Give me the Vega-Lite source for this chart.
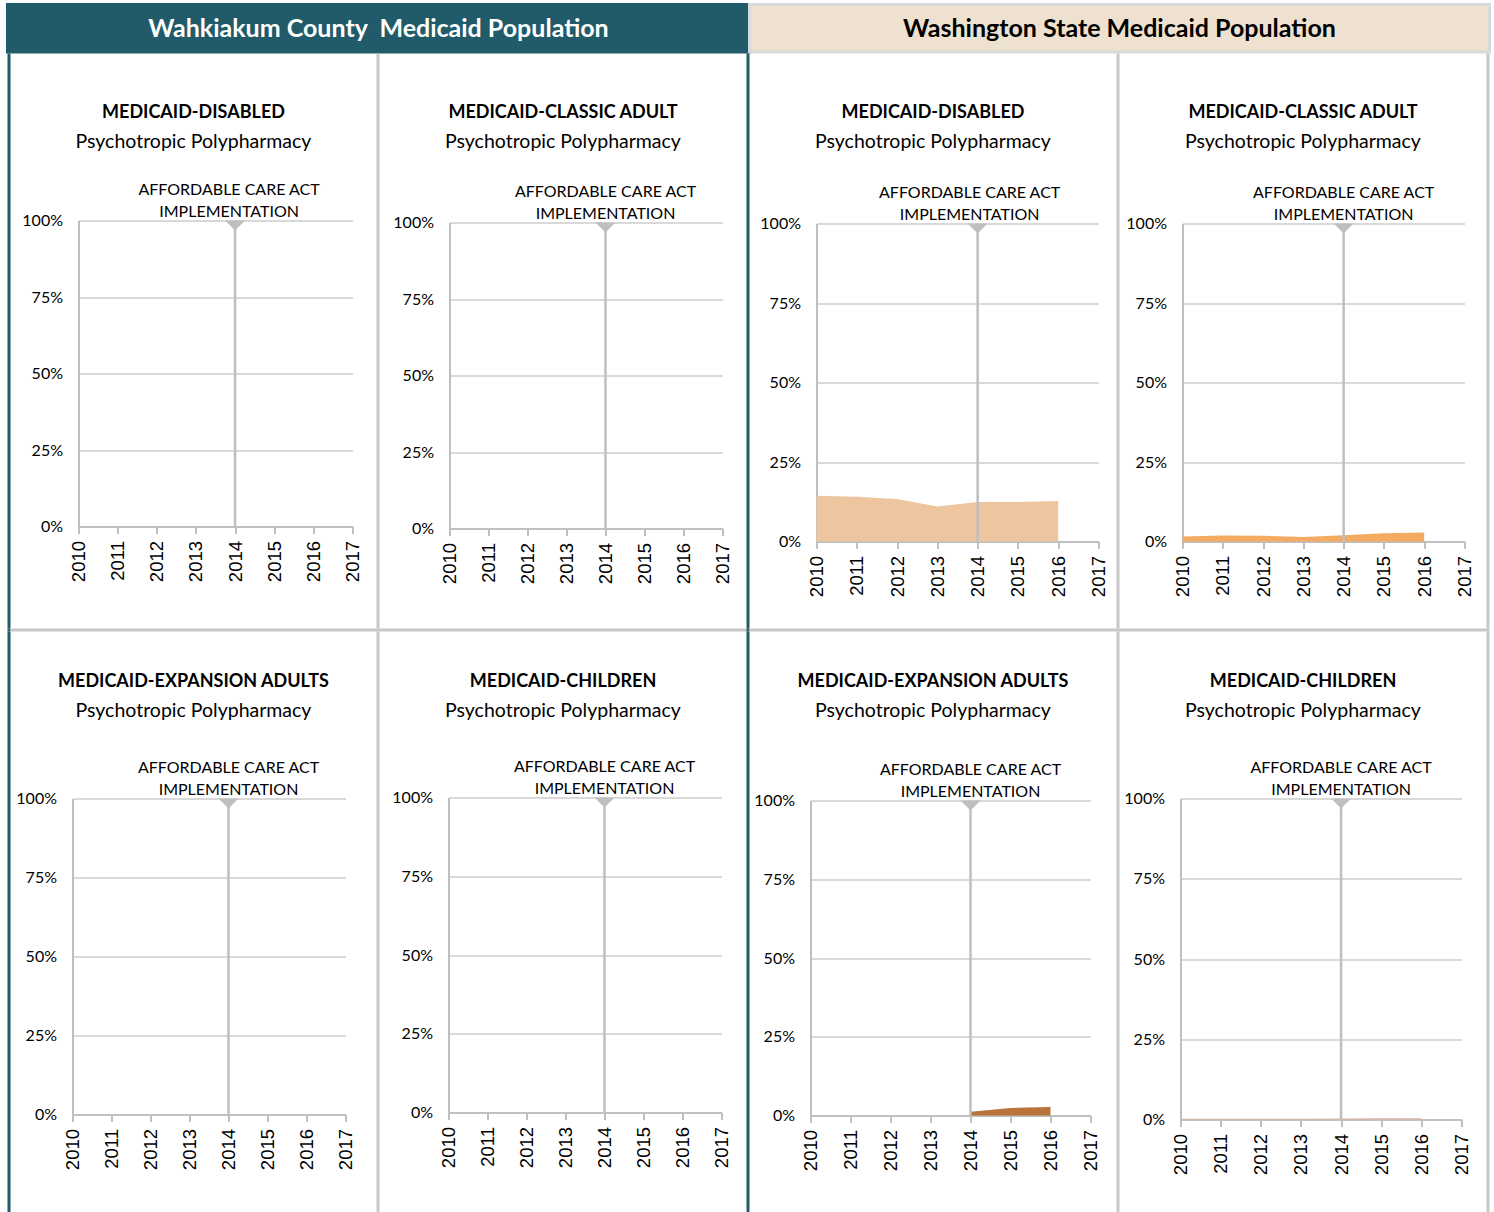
{
  "$schema": "https://vega.github.io/schema/vega-lite/v6.json",
  "padding": {"left": 5.5, "top": 2.5, "right": 0, "bottom": 0},
  "background": "white",
  "spacing": 0,
  "datasets": {
    "rates": [
      {"panel": "WA-DISABLED", "year": 2010, "pct": 0.144},
      {"panel": "WA-DISABLED", "year": 2011, "pct": 0.141},
      {"panel": "WA-DISABLED", "year": 2012, "pct": 0.134},
      {"panel": "WA-DISABLED", "year": 2013, "pct": 0.110},
      {"panel": "WA-DISABLED", "year": 2014, "pct": 0.124},
      {"panel": "WA-DISABLED", "year": 2015, "pct": 0.124},
      {"panel": "WA-DISABLED", "year": 2016, "pct": 0.127},
      {"panel": "WA-CLASSIC", "year": 2010, "pct": 0.016},
      {"panel": "WA-CLASSIC", "year": 2011, "pct": 0.019},
      {"panel": "WA-CLASSIC", "year": 2012, "pct": 0.018},
      {"panel": "WA-CLASSIC", "year": 2013, "pct": 0.014},
      {"panel": "WA-CLASSIC", "year": 2014, "pct": 0.020},
      {"panel": "WA-CLASSIC", "year": 2015, "pct": 0.026},
      {"panel": "WA-CLASSIC", "year": 2016, "pct": 0.028},
      {"panel": "WA-EXPANSION", "year": 2014, "pct": 0.012},
      {"panel": "WA-EXPANSION", "year": 2015, "pct": 0.024},
      {"panel": "WA-EXPANSION", "year": 2016, "pct": 0.027},
      {"panel": "WA-CHILDREN", "year": 2010, "pct": 0.002},
      {"panel": "WA-CHILDREN", "year": 2011, "pct": 0.002},
      {"panel": "WA-CHILDREN", "year": 2012, "pct": 0.002},
      {"panel": "WA-CHILDREN", "year": 2013, "pct": 0.002},
      {"panel": "WA-CHILDREN", "year": 2014, "pct": 0.003},
      {"panel": "WA-CHILDREN", "year": 2015, "pct": 0.004},
      {"panel": "WA-CHILDREN", "year": 2016, "pct": 0.004}
    ],
    "aca": [
      {"year": 2014, "pct": 1, "base": 0, "label": "AFFORDABLE CARE ACT\nIMPLEMENTATION"}
    ],
    "blank": [{"s": 1}]
  },
  "vconcat": [
    {
      "hconcat": [
        {"width": 742, "height": 47.5, "view": {"fill": "#215A68", "stroke": "#215A68", "strokeWidth": 3},
         "data": {"values": [{"h": "Wahkiakum County\u00a0 Medicaid Population"}]},
         "mark": {"type": "text", "font": "Lato", "fontWeight": "bold", "fontSize": 25, "color": "white", "baseline": "middle", "dy": 1},
         "encoding": {"text": {"field": "h"}}},
        {"width": 740, "height": 47.5, "view": {"fill": "#EEE1CF", "stroke": "#D9D9D9", "strokeWidth": 3},
         "data": {"values": [{"h": "Washington State Medicaid Population"}]},
         "mark": {"type": "text", "font": "Lato", "fontWeight": "bold", "fontSize": 25, "color": "black", "baseline": "middle", "dy": 1},
         "encoding": {"text": {"field": "h"}}}
      ],
      "spacing": 0, "bounds": "flush"
    },
    {
      "hconcat": [
        {"width": 3, "height": 575, "view": {"fill": "#215A68", "stroke": null}, "data": {"name": "blank"}, "mark": {"type": "point", "size": 0, "opacity": 0}, "encoding": {}},
        {
          "width": 366, "height": 575,
          "title": {"text": "MEDICAID-DISABLED", "subtitle": "Psychotropic Polypharmacy", "offset": -98},
          "encoding": {
            "x": {"field": "year", "type": "quantitative", "scale": {"domain": [2010, 2017], "range": [68, 342], "nice": false, "zero": false}, "axis": {"title": null, "offset": -102, "values": [2010, 2011, 2012, 2013, 2014, 2015, 2016, 2017], "format": "d"}},
            "y": {"field": "pct", "type": "quantitative", "scale": {"domain": [0, 1], "range": [473, 167], "nice": false}, "axis": {"title": null, "offset": -68, "values": [0, 0.25, 0.5, 0.75, 1], "format": ".0%"}}
          },
          "layer": [
            {"data": {"name": "aca"}, "mark": {"type": "rule", "color": "#BFBFBF", "strokeWidth": 2.5}, "encoding": {"y2": {"field": "base"}}},
            {"data": {"name": "aca"}, "mark": {"type": "point", "shape": "M-1,0L1,0L0,1Z", "filled": true, "size": 400, "color": "#BFBFBF", "opacity": 1}},
            {"data": {"name": "aca"}, "mark": {"type": "text", "baseline": "bottom", "dy": -23, "dx": -6, "font": "Lato", "fontSize": 16, "lineHeight": 22, "lineBreak": "\n", "color": "#000000"}, "encoding": {"text": {"field": "label"}}}
          ]
        },
        {"width": 3, "height": 575, "view": {"fill": "#C8C8C8", "stroke": null}, "data": {"name": "blank"}, "mark": {"type": "point", "size": 0, "opacity": 0}, "encoding": {}},
        {
          "width": 367, "height": 575,
          "title": {"text": "MEDICAID-CLASSIC ADULT", "subtitle": "Psychotropic Polypharmacy", "offset": -98},
          "encoding": {
            "x": {"field": "year", "type": "quantitative", "scale": {"domain": [2010, 2017], "range": [70, 343], "nice": false, "zero": false}, "axis": {"title": null, "offset": -100, "values": [2010, 2011, 2012, 2013, 2014, 2015, 2016, 2017], "format": "d"}},
            "y": {"field": "pct", "type": "quantitative", "scale": {"domain": [0, 1], "range": [475, 169], "nice": false}, "axis": {"title": null, "offset": -70, "values": [0, 0.25, 0.5, 0.75, 1], "format": ".0%"}}
          },
          "layer": [
            {"data": {"name": "aca"}, "mark": {"type": "rule", "color": "#BFBFBF", "strokeWidth": 2.5}, "encoding": {"y2": {"field": "base"}}},
            {"data": {"name": "aca"}, "mark": {"type": "point", "shape": "M-1,0L1,0L0,1Z", "filled": true, "size": 400, "color": "#BFBFBF", "opacity": 1}},
            {"data": {"name": "aca"}, "mark": {"type": "text", "baseline": "bottom", "dy": -23, "font": "Lato", "fontSize": 16, "lineHeight": 22, "lineBreak": "\n", "color": "#000000"}, "encoding": {"text": {"field": "label"}}}
          ]
        },
        {"width": 3, "height": 575, "view": {"fill": "#215A68", "stroke": null}, "data": {"name": "blank"}, "mark": {"type": "point", "size": 0, "opacity": 0}, "encoding": {}},
        {
          "width": 367, "height": 575,
          "title": {"text": "MEDICAID-DISABLED", "subtitle": "Psychotropic Polypharmacy", "offset": -98},
          "encoding": {
            "x": {"field": "year", "type": "quantitative", "scale": {"domain": [2010, 2017], "range": [67, 349], "nice": false, "zero": false}, "axis": {"title": null, "offset": -87, "values": [2010, 2011, 2012, 2013, 2014, 2015, 2016, 2017], "format": "d"}},
            "y": {"field": "pct", "type": "quantitative", "scale": {"domain": [0, 1], "range": [488, 170], "nice": false}, "axis": {"title": null, "offset": -67, "values": [0, 0.25, 0.5, 0.75, 1], "format": ".0%"}}
          },
          "layer": [
            {"data": {"name": "rates"}, "transform": [{"filter": "datum.panel === 'WA-DISABLED'"}], "mark": {"type": "area", "color": "#EDC59E", "opacity": 1}},
            {"data": {"name": "aca"}, "mark": {"type": "rule", "color": "#BFBFBF", "strokeWidth": 2.5}, "encoding": {"y2": {"field": "base"}}},
            {"data": {"name": "aca"}, "mark": {"type": "point", "shape": "M-1,0L1,0L0,1Z", "filled": true, "size": 400, "color": "#BFBFBF", "opacity": 1}},
            {"data": {"name": "aca"}, "mark": {"type": "text", "baseline": "bottom", "dy": -23, "dx": -8, "font": "Lato", "fontSize": 16, "lineHeight": 22, "lineBreak": "\n", "color": "#000000"}, "encoding": {"text": {"field": "label"}}}
          ]
        },
        {"width": 3, "height": 575, "view": {"fill": "#C8C8C8", "stroke": null}, "data": {"name": "blank"}, "mark": {"type": "point", "size": 0, "opacity": 0}, "encoding": {}},
        {
          "width": 367, "height": 575,
          "title": {"text": "MEDICAID-CLASSIC ADULT", "subtitle": "Psychotropic Polypharmacy", "offset": -98},
          "encoding": {
            "x": {"field": "year", "type": "quantitative", "scale": {"domain": [2010, 2017], "range": [63, 345], "nice": false, "zero": false}, "axis": {"title": null, "offset": -87, "values": [2010, 2011, 2012, 2013, 2014, 2015, 2016, 2017], "format": "d"}},
            "y": {"field": "pct", "type": "quantitative", "scale": {"domain": [0, 1], "range": [488, 170], "nice": false}, "axis": {"title": null, "offset": -63, "values": [0, 0.25, 0.5, 0.75, 1], "format": ".0%"}}
          },
          "layer": [
            {"data": {"name": "rates"}, "transform": [{"filter": "datum.panel === 'WA-CLASSIC'"}], "mark": {"type": "area", "color": "#F5AA62", "opacity": 1}},
            {"data": {"name": "aca"}, "mark": {"type": "rule", "color": "#BFBFBF", "strokeWidth": 2.5}, "encoding": {"y2": {"field": "base"}}},
            {"data": {"name": "aca"}, "mark": {"type": "point", "shape": "M-1,0L1,0L0,1Z", "filled": true, "size": 400, "color": "#BFBFBF", "opacity": 1}},
            {"data": {"name": "aca"}, "mark": {"type": "text", "baseline": "bottom", "dy": -23, "font": "Lato", "fontSize": 16, "lineHeight": 22, "lineBreak": "\n", "color": "#000000"}, "encoding": {"text": {"field": "label"}}}
          ]
        },
        {"width": 3, "height": 575, "view": {"fill": "#C8C8C8", "stroke": null}, "data": {"name": "blank"}, "mark": {"type": "point", "size": 0, "opacity": 0}, "encoding": {}}
      ],
      "spacing": 0, "bounds": "flush"
    },
    {
      "hconcat": [
        {"width": 3, "height": 3, "view": {"fill": "#215A68", "stroke": null}, "data": {"name": "blank"}, "mark": {"type": "point", "size": 0, "opacity": 0}, "encoding": {}},
        {"width": 736, "height": 3, "view": {"fill": "#C8C8C8", "stroke": null}, "data": {"name": "blank"}, "mark": {"type": "point", "size": 0, "opacity": 0}, "encoding": {}},
        {"width": 3, "height": 3, "view": {"fill": "#215A68", "stroke": null}, "data": {"name": "blank"}, "mark": {"type": "point", "size": 0, "opacity": 0}, "encoding": {}},
        {"width": 740, "height": 3, "view": {"fill": "#C8C8C8", "stroke": null}, "data": {"name": "blank"}, "mark": {"type": "point", "size": 0, "opacity": 0}, "encoding": {}}
      ],
      "spacing": 0, "bounds": "flush"
    },
    {
      "hconcat": [
        {"width": 3, "height": 585, "view": {"fill": "#215A68", "stroke": null}, "data": {"name": "blank"}, "mark": {"type": "point", "size": 0, "opacity": 0}, "encoding": {}},
        {
          "width": 366, "height": 585,
          "title": {"text": "MEDICAID-EXPANSION ADULTS", "subtitle": "Psychotropic Polypharmacy", "offset": -89},
          "encoding": {
            "x": {"field": "year", "type": "quantitative", "scale": {"domain": [2010, 2017], "range": [62, 335], "nice": false, "zero": false}, "axis": {"title": null, "offset": -102, "values": [2010, 2011, 2012, 2013, 2014, 2015, 2016, 2017], "format": "d"}},
            "y": {"field": "pct", "type": "quantitative", "scale": {"domain": [0, 1], "range": [483, 167], "nice": false}, "axis": {"title": null, "offset": -62, "values": [0, 0.25, 0.5, 0.75, 1], "format": ".0%"}}
          },
          "layer": [
            {"data": {"name": "aca"}, "mark": {"type": "rule", "color": "#BFBFBF", "strokeWidth": 2.5}, "encoding": {"y2": {"field": "base"}}},
            {"data": {"name": "aca"}, "mark": {"type": "point", "shape": "M-1,0L1,0L0,1Z", "filled": true, "size": 400, "color": "#BFBFBF", "opacity": 1}},
            {"data": {"name": "aca"}, "mark": {"type": "text", "baseline": "bottom", "dy": -23, "font": "Lato", "fontSize": 16, "lineHeight": 22, "lineBreak": "\n", "color": "#000000"}, "encoding": {"text": {"field": "label"}}}
          ]
        },
        {"width": 3, "height": 585, "view": {"fill": "#C8C8C8", "stroke": null}, "data": {"name": "blank"}, "mark": {"type": "point", "size": 0, "opacity": 0}, "encoding": {}},
        {
          "width": 367, "height": 585,
          "title": {"text": "MEDICAID-CHILDREN", "subtitle": "Psychotropic Polypharmacy", "offset": -89},
          "encoding": {
            "x": {"field": "year", "type": "quantitative", "scale": {"domain": [2010, 2017], "range": [69, 342], "nice": false, "zero": false}, "axis": {"title": null, "offset": -104, "values": [2010, 2011, 2012, 2013, 2014, 2015, 2016, 2017], "format": "d"}},
            "y": {"field": "pct", "type": "quantitative", "scale": {"domain": [0, 1], "range": [481, 166], "nice": false}, "axis": {"title": null, "offset": -69, "values": [0, 0.25, 0.5, 0.75, 1], "format": ".0%"}}
          },
          "layer": [
            {"data": {"name": "aca"}, "mark": {"type": "rule", "color": "#BFBFBF", "strokeWidth": 2.5}, "encoding": {"y2": {"field": "base"}}},
            {"data": {"name": "aca"}, "mark": {"type": "point", "shape": "M-1,0L1,0L0,1Z", "filled": true, "size": 400, "color": "#BFBFBF", "opacity": 1}},
            {"data": {"name": "aca"}, "mark": {"type": "text", "baseline": "bottom", "dy": -23, "font": "Lato", "fontSize": 16, "lineHeight": 22, "lineBreak": "\n", "color": "#000000"}, "encoding": {"text": {"field": "label"}}}
          ]
        },
        {"width": 3, "height": 585, "view": {"fill": "#215A68", "stroke": null}, "data": {"name": "blank"}, "mark": {"type": "point", "size": 0, "opacity": 0}, "encoding": {}},
        {
          "width": 367, "height": 585,
          "title": {"text": "MEDICAID-EXPANSION ADULTS", "subtitle": "Psychotropic Polypharmacy", "offset": -89},
          "encoding": {
            "x": {"field": "year", "type": "quantitative", "scale": {"domain": [2010, 2017], "range": [61, 341], "nice": false, "zero": false}, "axis": {"title": null, "offset": -101, "values": [2010, 2011, 2012, 2013, 2014, 2015, 2016, 2017], "format": "d"}},
            "y": {"field": "pct", "type": "quantitative", "scale": {"domain": [0, 1], "range": [484, 169], "nice": false}, "axis": {"title": null, "offset": -61, "values": [0, 0.25, 0.5, 0.75, 1], "format": ".0%"}}
          },
          "layer": [
            {"data": {"name": "rates"}, "transform": [{"filter": "datum.panel === 'WA-EXPANSION'"}], "mark": {"type": "area", "color": "#B8743A", "opacity": 1}},
            {"data": {"name": "aca"}, "mark": {"type": "rule", "color": "#BFBFBF", "strokeWidth": 2.5}, "encoding": {"y2": {"field": "base"}}},
            {"data": {"name": "aca"}, "mark": {"type": "point", "shape": "M-1,0L1,0L0,1Z", "filled": true, "size": 400, "color": "#BFBFBF", "opacity": 1}},
            {"data": {"name": "aca"}, "mark": {"type": "text", "baseline": "bottom", "dy": -23, "font": "Lato", "fontSize": 16, "lineHeight": 22, "lineBreak": "\n", "color": "#000000"}, "encoding": {"text": {"field": "label"}}}
          ]
        },
        {"width": 3, "height": 585, "view": {"fill": "#C8C8C8", "stroke": null}, "data": {"name": "blank"}, "mark": {"type": "point", "size": 0, "opacity": 0}, "encoding": {}},
        {
          "width": 367, "height": 585,
          "title": {"text": "MEDICAID-CHILDREN", "subtitle": "Psychotropic Polypharmacy", "offset": -89},
          "encoding": {
            "x": {"field": "year", "type": "quantitative", "scale": {"domain": [2010, 2017], "range": [61, 342], "nice": false, "zero": false}, "axis": {"title": null, "offset": -97, "values": [2010, 2011, 2012, 2013, 2014, 2015, 2016, 2017], "format": "d"}},
            "y": {"field": "pct", "type": "quantitative", "scale": {"domain": [0, 1], "range": [488, 167], "nice": false}, "axis": {"title": null, "offset": -61, "values": [0, 0.25, 0.5, 0.75, 1], "format": ".0%"}}
          },
          "layer": [
            {"data": {"name": "rates"}, "transform": [{"filter": "datum.panel === 'WA-CHILDREN'"}], "mark": {"type": "area", "color": "#DDB2A2", "opacity": 1}},
            {"data": {"name": "aca"}, "mark": {"type": "rule", "color": "#BFBFBF", "strokeWidth": 2.5}, "encoding": {"y2": {"field": "base"}}},
            {"data": {"name": "aca"}, "mark": {"type": "point", "shape": "M-1,0L1,0L0,1Z", "filled": true, "size": 400, "color": "#BFBFBF", "opacity": 1}},
            {"data": {"name": "aca"}, "mark": {"type": "text", "baseline": "bottom", "dy": -23, "font": "Lato", "fontSize": 16, "lineHeight": 22, "lineBreak": "\n", "color": "#000000"}, "encoding": {"text": {"field": "label"}}}
          ]
        },
        {"width": 3, "height": 585, "view": {"fill": "#C8C8C8", "stroke": null}, "data": {"name": "blank"}, "mark": {"type": "point", "size": 0, "opacity": 0}, "encoding": {}}
      ],
      "spacing": 0, "bounds": "flush"
    }
  ],
  "config": {
    "view": {"stroke": null},
    "title": {"font": "Lato", "fontSize": 18, "fontWeight": "bold", "color": "#000000", "subtitleFont": "Lato", "subtitleFontSize": 19.5, "subtitleFontWeight": "normal", "subtitleColor": "#000000", "subtitlePadding": 11, "anchor": "middle", "frame": "group"},
    "axis": {"domainColor": "#BFBFBF", "domainWidth": 2, "tickColor": "#BFBFBF", "tickWidth": 2, "gridColor": "#D9D9D9", "gridWidth": 2, "labelColor": "#000000", "labelFlush": false, "labelOverlap": false, "labelBound": false},
    "axisX": {"tickSize": 7, "labelFont": "Liberation Sans", "labelFontSize": 18.5, "labelPadding": 7, "grid": false, "labelAngle": -90},
    "axisY": {"ticks": false, "labelFont": "Lato", "labelFontSize": 16, "labelPadding": 16, "grid": true}
  }
}
